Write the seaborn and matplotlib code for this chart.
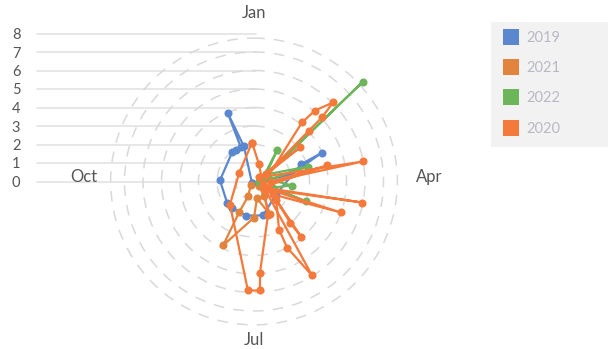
import numpy as np
import pandas as pd
import matplotlib
matplotlib.use("Agg")
import matplotlib.pyplot as plt
from matplotlib.lines import Line2D
from matplotlib.patches import Rectangle
import seaborn as sns

# ---- data (angle in degrees clockwise from Jan, value on radial axis) ----
series_names = ["2019", "2021", "2022", "2020"]
series_colors = ["#5B87CE", "#E2843E", "#6DB55B", "#F5793B"]

theta_2019 = [225, 344, 339, 339, 330, 323, 272, 232, 220, 193, 165, 121, 70, 67, 79, 225]
r_2019 = [0.15, 1.97, 3.98, 1.97, 1.94, 1.97, 1.84, 1.85, 1.84, 1.89, 1.90, 1.38, 2.70, 4.00, 2.04, 0.15]

theta_2021 = [225, 201.8, 205.8, 205.8, 180, 170, 154.1, 146.3, 128.7]
r_2021 = [0.23, 0.87, 1.86, 3.84, 1.95, 0.93, 1.98, 0.97, 0.35]

theta_2022 = [101, 47.5, 66, 36.6, 59.7, 74.5, 82.4, 96, 107.5, 111, 101]
r_2022 = [0.28, 8.0, 0.53, 2.09, 0.75, 3.03, 0.82, 2.07, 1.08, 3.01, 0.28]

theta_2020 = [357.1, 298.1, 226.2, 183.2, 176.9, 176.2, 157, 108.4, 39.1, 40.7, 45, 46.7,
              47.2, 59.7, 53.5, 51.3, 79.6, 90, 77.6, 123.7, 101, 118, 109.6, 124.4,
              138.7, 139.5, 129.3, 152.5, 153.4, 148.3, 114, 16.4, 357.1]
r_2020 = [2.11, 0.92, 1.80, 5.90, 5.90, 4.93, 1.94, 0.51, 4.11, 5.06, 6.04, 5.05,
          4.05, 0.75, 3.09, 0.35, 5.99, 0.92, 4.04, 0.58, 5.95, 0.92, 4.99, 1.24,
          2.95, 3.91, 1.54, 2.93, 3.99, 5.97, 0.53, 0.96, 2.11]

month_labels = ["Jan", "Apr", "Jul", "Oct"]
month_angles = [0, 90, 180, 270]
radial_ticks = [0, 1, 2, 3, 4, 5, 6, 7, 8]

series_theta = {"2019": theta_2019, "2021": theta_2021, "2022": theta_2022, "2020": theta_2020}
series_r = {"2019": r_2019, "2021": r_2021, "2022": r_2022, "2020": r_2020}

# ---- styling ----
sns.set_theme(style="white")
plt.rcParams["font.family"] = ["Lato", "DejaVu Sans"]

W, H = 608, 349
fig = plt.figure(figsize=(W / 100, H / 100), dpi=100)

cx, cy, R = 254, 181.5, 148  # pixel centre / radius of polar area

# left cartesian scale with horizontal lines
axl = fig.add_axes([37 / W, (H - cy) / H, (cx + 2 - 37) / W, R / H])
axl.set_xlim(0, 1)
axl.set_ylim(0, 8)
axl.set_yticks(radial_ticks)
axl.set_yticklabels([str(t) for t in radial_ticks], fontsize=10.5, color="#555555")
axl.set_xticks([])
for t in radial_ticks:
    axl.axhline(t, color="#E0E0E0", lw=1.1, clip_on=False, zorder=0)
axl.tick_params(axis="y", length=0, pad=12)
for s in axl.spines.values():
    s.set_visible(False)
axl.patch.set_alpha(0)

# polar axes
ax = fig.add_axes([(cx - R) / W, (H - cy - R) / H, 2 * R / W, 2 * R / H], projection="polar")
ax.patch.set_alpha(0)
ax.set_theta_zero_location("N")
ax.set_theta_direction(-1)
ax.set_ylim(0, 8)
ax.set_yticks([1, 2, 3, 4, 5, 6, 7, 7.75])
ax.set_yticklabels([])
ax.set_xticks([])
ax.grid(False)
ax.yaxis.grid(True, color="#D9D9D9", lw=1.1, linestyle=(0, (7, 6)))
ax.spines["polar"].set_visible(False)

for name, col in zip(series_names, series_colors):
    df = pd.DataFrame({"theta": np.deg2rad(series_theta[name]), "r": series_r[name]})
    sns.lineplot(data=df, x="theta", y="r", ax=ax, sort=False, estimator=None,
                 color=col, lw=1.6, marker="o", markersize=5.8, markeredgewidth=0,
                 legend=False, clip_on=False)
ax.set_xlabel("")
ax.set_ylabel("")
ax.set_xticks([])
ax.set_ylim(0, 8)

label_r = {"Jan": 9.1, "Apr": 9.5, "Jul": 8.55, "Oct": 9.2}
label_ang = {"Jan": 0, "Apr": 88.5, "Jul": 180, "Oct": 271.5}
for lab in month_labels:
    ax.text(np.deg2rad(label_ang[lab]), label_r[lab], lab, ha="center", va="center",
            fontsize=12, color="#555555", clip_on=False)

# legend
fig.patches.append(Rectangle((491 / W, 1 - 147 / H), 117 / W, 125 / H,
                             transform=fig.transFigure, facecolor="#F2F2F2",
                             edgecolor="none", zorder=0))
handles = [Line2D([], [], linestyle="none", marker="s", markersize=11.5,
                  markerfacecolor=c, markeredgewidth=0) for c in series_colors]
leg = fig.legend(handles, series_names, loc="upper left",
                 bbox_to_anchor=(496 / W, 1 - 25 / H), frameon=False,
                 fontsize=10.5, labelcolor="#B9B9C6", labelspacing=1.12,
                 handletextpad=0.5, handlelength=1.2, borderaxespad=0)

fig.savefig("out.png", dpi=100)
